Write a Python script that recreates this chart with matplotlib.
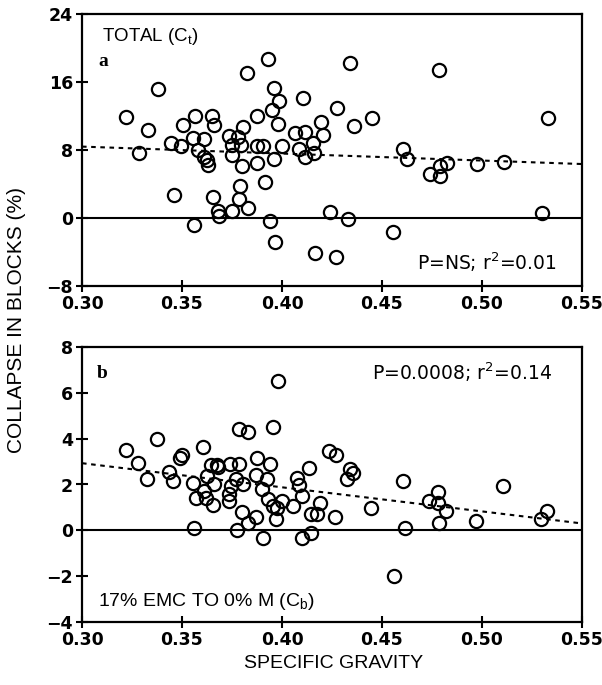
import matplotlib
matplotlib.use("Agg")
import matplotlib.pyplot as plt
import numpy as np

plt.rcParams['font.family'] = ['Liberation Sans', 'DejaVu Sans']

# Panel a: total collapse (Ct)
sg_a = [0.322, 0.3285, 0.333, 0.338, 0.3445, 0.346, 0.3495, 0.3505, 0.3565, 0.3555,
        0.358, 0.361, 0.361, 0.3625, 0.363, 0.365, 0.366, 0.356, 0.3655, 0.368,
        0.3685, 0.375, 0.3785, 0.379, 0.383, 0.3735, 0.375, 0.375, 0.378, 0.3795,
        0.380, 0.3805, 0.3825, 0.3875, 0.3905, 0.3875, 0.3875, 0.3915, 0.393, 0.395,
        0.396, 0.3985, 0.398, 0.400, 0.396, 0.394, 0.3965, 0.4105, 0.4065, 0.4115,
        0.4085, 0.4115, 0.4155, 0.416, 0.4195, 0.4205, 0.4275, 0.4165, 0.427, 0.424,
        0.434, 0.436, 0.445, 0.4605, 0.4625, 0.474, 0.4785, 0.479, 0.479, 0.4825,
        0.4975, 0.511, 0.533, 0.530, 0.433, 0.4555]
ct = [11.9, 7.6, 10.4, 15.2, 8.8, 2.7, 8.5, 10.9, 12.0, 9.4,
      8.0, 9.3, 7.2, 6.8, 6.2, 12.0, 10.9, -0.8, 2.5, 0.8,
      0.2, 0.8, 2.2, 3.8, 1.2, 9.7, 8.6, 7.4, 9.5, 8.6,
      6.1, 10.7, 17.1, 8.5, 8.5, 6.5, 12.0, 4.2, 18.7, 12.7,
      15.3, 13.8, 11.1, 8.5, 6.9, -0.4, -2.8, 14.1, 10.0, 10.1,
      8.1, 7.2, 8.8, 7.6, 11.3, 9.8, 12.9, -4.1, -4.6, 0.7,
      18.2, 10.8, 11.8, 8.1, 6.9, 5.2, 17.4, 6.1, 4.9, 6.5,
      6.4, 6.6, 11.8, 0.6, -0.1, -1.6]
fit_a_x = [0.30, 0.55]
fit_a_y = [8.4, 6.35]

# Panel b: 17% EMC to 0% M (Cb)
sg_b = [0.3218, 0.328, 0.3327, 0.3377, 0.3437, 0.3457, 0.349, 0.3502, 0.3557, 0.357,
        0.356, 0.3607, 0.361, 0.362, 0.3623, 0.3643, 0.366, 0.3653, 0.3673, 0.368,
        0.3737, 0.3737, 0.3743, 0.374, 0.377, 0.3787, 0.3787, 0.3832, 0.3807, 0.3777,
        0.3798, 0.3832, 0.3870, 0.3873, 0.387, 0.3898, 0.3907, 0.3927, 0.394, 0.3953,
        0.3982, 0.3932, 0.3953, 0.3977, 0.397, 0.400, 0.4053, 0.4073, 0.4087, 0.4098,
        0.4137, 0.4098, 0.4143, 0.4143, 0.4177, 0.419, 0.4233, 0.427, 0.4263, 0.4325,
        0.4342, 0.4353, 0.4447, 0.4603, 0.4617, 0.4558, 0.478, 0.4737, 0.478, 0.482,
        0.4783, 0.497, 0.5103, 0.5325, 0.5297]
cb = [3.51, 2.95, 2.23, 3.97, 2.55, 2.16, 3.17, 3.29, 2.08, 1.43,
      0.08, 3.65, 1.72, 1.43, 2.37, 2.85, 2.04, 1.11, 2.85, 2.78,
      1.60, 1.29, 1.94, 2.88, 2.23, 2.91, 4.41, 4.31, 2.04, 0.01,
      0.78, 0.30, 0.59, 3.15, 2.42, 1.79, -0.34, 2.23, 2.91, 4.51,
      6.51, 1.36, 1.07, 0.97, 0.49, 1.26, 1.07, 2.27, 1.98, 1.50,
      2.71, -0.34, -0.12, 0.73, 0.73, 1.21, 3.46, 3.29, 0.59, 2.23,
      2.67, 2.52, 0.99, 2.16, 0.08, -1.98, 1.68, 1.26, 1.21, 0.85,
      0.34, 0.41, 1.94, 0.85, 0.49]
fit_b_x = [0.30, 0.55]
fit_b_y = [2.93, 0.30]

xticks = [0.30, 0.35, 0.40, 0.45, 0.50, 0.55]
xticklabels = ['0.30', '0.35', '0.40', '0.45', '0.50', '0.55']
yticks_a = [-8, 0, 8, 16, 24]
yticks_b = [-4, -2, 0, 2, 4, 6, 8]

fig = plt.figure(figsize=(6.02, 6.85), dpi=100)
W, H = 602, 685
ax_a = fig.add_axes([82 / W, 1 - 286 / H, 500 / W, 272 / H])
ax_b = fig.add_axes([82 / W, 1 - 622 / H, 500 / W, 275 / H])

def style(ax, yticks, ylim):
    ax.set_xlim(0.30, 0.55)
    ax.set_ylim(*ylim)
    ax.set_xticks(xticks)
    ax.set_xticklabels(xticklabels)
    ax.set_yticks(yticks)
    ax.set_yticklabels([str(t) if t >= 0 else '\u2212' + str(-t) for t in yticks])
    ax.tick_params(direction='inout', length=9, width=1.5, pad=2,
                   top=False, right=False)
    for lab in ax.get_xticklabels() + ax.get_yticklabels():
        lab.set_fontweight('bold')
        lab.set_family('DejaVu Sans')
        lab.set_fontsize(12.5)
    for s in ax.spines.values():
        s.set_linewidth(1.6)
    ax.axhline(0, color='black', lw=1.5, zorder=1)

for ax, x, y, fx, fy, yt, yl in [(ax_a, sg_a, ct, fit_a_x, fit_a_y, yticks_a, (-8, 24)),
                                (ax_b, sg_b, cb, fit_b_x, fit_b_y, yticks_b, (-4, 8))]:
    style(ax, yt, yl)
    ax.plot(fx, fy, color='black', lw=1.5, linestyle=(0, (2.2, 2.2)), zorder=2)
    ax.plot(x, y, linestyle='none', marker='o', markersize=9.5, markerfacecolor='none',
            markeredgecolor='black', markeredgewidth=1.6, zorder=3)

ax_a.text(0.04, 0.919, 'TOTAL (C$_\\mathregular{t}$)', transform=ax_a.transAxes,
          fontsize=13.5, ha='left', va='center')
ax_a.text(0.032, 0.824, 'a', transform=ax_a.transAxes, fontsize=14, fontweight='bold',
          family='Liberation Serif', ha='left', va='center')
ax_a.text(0.95, 0.088, 'P=NS; r$^\\mathregular{2}$=0.01', transform=ax_a.transAxes,
          fontsize=13.5, family='DejaVu Sans', ha='right', va='center')

ax_b.text(0.030, 0.905, 'b', transform=ax_b.transAxes, fontsize=14, fontweight='bold',
          family='Liberation Serif', ha='left', va='center')
ax_b.text(0.94, 0.909, 'P=0.0008; r$^\\mathregular{2}$=0.14', transform=ax_b.transAxes,
          fontsize=13.5, family='DejaVu Sans', ha='right', va='center')
ax_b.text(0.032, 0.073, '17% EMC TO 0% M (C$_\\mathregular{b}$)', transform=ax_b.transAxes,
          fontsize=14, ha='left', va='center')

fig.text(17 / W, 1 - 320 / H, 'COLLAPSE IN BLOCKS (%)', rotation=90, fontsize=15,
         ha='center', va='center')
fig.text(334 / W, 1 - 663 / H, 'SPECIFIC GRAVITY', fontsize=14, ha='center', va='center')

fig.savefig('out.png', dpi=100)
